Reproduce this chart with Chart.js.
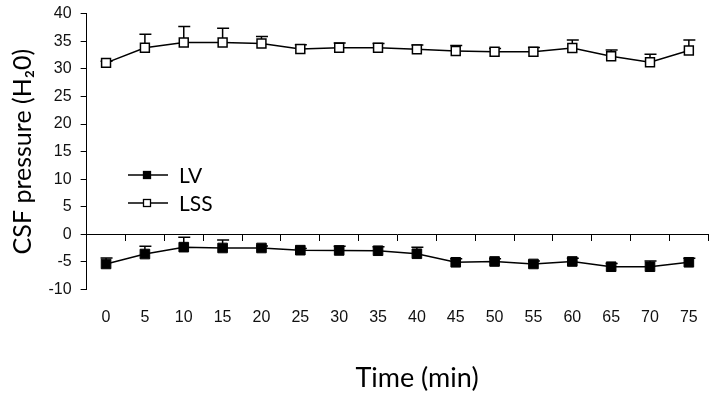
<!DOCTYPE html>
<html><head><meta charset="utf-8">
<script src="https://cdn.jsdelivr.net/npm/chart.js@4.4.0/dist/chart.umd.min.js"></script>
<style>html,body{margin:0;padding:0;background:#fff}#wrap{width:717px;height:395px}</style>
</head><body><div id="wrap"><canvas id="c" width="717" height="395"></canvas></div>
<script>
const timeLabels = ['0','5','10','15','20','25','30','35','40','45','50','55','60','65','70','75'];
const lvValues  = [-5.4,-3.6,-2.35,-2.5,-2.5,-2.9,-2.95,-3.0,-3.55,-5.1,-4.95,-5.4,-4.95,-5.9,-5.9,-5.1];
const lvErrors  = [1.1,1.4,1.8,1.45,0.35,0.3,0.75,0.7,1.2,0.65,0.5,0.55,0.6,0.6,1.05,0.75];
const lssValues = [31.1,33.85,34.8,34.8,34.6,33.6,33.85,33.85,33.55,33.25,33.1,33.1,33.8,32.3,31.2,33.35];
const lssErrors = [0.3,2.45,2.9,2.6,1.3,0.8,0.85,0.75,0.8,1.0,0.6,0.8,1.45,1.15,1.45,1.9];
const yMin = -10, yMax = 40, yStep = 5;
const seriesNames = ['LV','LSS'];
const xTitle = 'Time (min)';
const yTitle = 'CSF pressure (H\u20820)';

const errorBars = {
  id: 'errorBars',
  beforeDatasetsDraw(chart) {
    const ctx = chart.ctx, ys = chart.scales.y;
    chart.data.datasets.forEach((ds, di) => {
      const meta = chart.getDatasetMeta(di);
      ctx.save();
      ctx.strokeStyle = '#000';
      ctx.lineWidth = 1.5;
      meta.data.forEach((pt, i) => {
        const e = ds.errors[i];
        const x = pt.x, y0 = pt.y, y1 = ys.getPixelForValue(ds.data[i] + e);
        ctx.beginPath();
        ctx.moveTo(x, y0); ctx.lineTo(x, y1);
        ctx.moveTo(x - 5.5, y1); ctx.lineTo(x + 6.5, y1);
        ctx.stroke();
      });
      ctx.restore();
    });
  }
};

const innerLegend = {
  id: 'innerLegend',
  afterDraw(chart) {
    const ctx = chart.ctx;
    const x0 = 128, x1 = 168, xm = 147, tx = 179;
    const rows = [175, 203];
    chart.data.datasets.forEach((ds, i) => {
      const y = rows[i];
      ctx.save();
      ctx.strokeStyle = '#000'; ctx.lineWidth = 1.5;
      ctx.beginPath(); ctx.moveTo(x0, y); ctx.lineTo(x1, y); ctx.stroke();
      ctx.fillStyle = ds.pointBackgroundColor;
      ctx.fillRect(xm - 3.5, y - 3.5, 7, 7);
      ctx.lineWidth = 1.3;
      ctx.strokeRect(xm - 3.5, y - 3.5, 7, 7);
      ctx.fillStyle = '#000';
      ctx.font = '21px Lato';
      ctx.textBaseline = 'middle';
      ctx.fillText(ds.label, tx, y + 1);
      ctx.restore();
    });
  }
};

const xAxisTitle = {
  id: 'xAxisTitle',
  afterDraw(chart) {
    const ctx = chart.ctx;
    ctx.save();
    ctx.fillStyle = '#000';
    ctx.font = '27px Lato';
    ctx.textAlign = 'center';
    ctx.textBaseline = 'middle';
    ctx.fillText(xTitle, 417, 378);
    ctx.restore();
  }
};

new Chart(document.getElementById('c'), {
  type: 'line',
  data: {
    labels: timeLabels,
    datasets: [
      { label: seriesNames[0], data: lvValues, errors: lvErrors, borderColor: '#000', borderWidth: 1.5,
        pointStyle: 'rect', pointRadius: 6.8, pointBackgroundColor: '#000', pointBorderColor: '#000', pointBorderWidth: 1,
        xAxisID: 'x', yAxisID: 'y', tension: 0 },
      { label: seriesNames[1], data: lssValues, errors: lssErrors, borderColor: '#000', borderWidth: 1.5,
        pointStyle: 'rect', pointRadius: 6.3, pointBackgroundColor: '#fff', pointBorderColor: '#000', pointBorderWidth: 1.5,
        xAxisID: 'x', yAxisID: 'y', tension: 0 }
    ]
  },
  options: {
    responsive: false, animation: false, devicePixelRatio: 1,
    layout: { padding: { left: 8, right: 6, top: 0, bottom: 48.5 } },
    plugins: { legend: { display: false }, tooltip: { enabled: false } },
    scales: {
      x: {
        type: 'category', position: 'bottom', offset: true,
        grid: { display: false, drawTicks: false },
        border: { display: false },
        ticks: { color: '#111', font: { family: 'Liberation Sans', size: 16 }, padding: 19, maxRotation: 0, autoSkip: false },
        title: { display: false, text: xTitle }
      },
      x0: {
        type: 'category', position: { y: 0 }, offset: true,
        grid: { display: true, offset: true, drawOnChartArea: false, drawTicks: true, tickLength: 6, color: '#000', lineWidth: 1 },
        border: { display: true, color: '#000', width: 1 },
        ticks: { display: false }
      },
      y: {
        type: 'linear', min: yMin, max: yMax,
        grid: { drawOnChartArea: false, drawTicks: true, tickLength: 6, color: '#000', lineWidth: 1 },
        border: { display: true, color: '#000', width: 1 },
        ticks: { stepSize: yStep, color: '#111', font: { family: 'Liberation Sans', size: 16, lineHeight: 0.6 }, padding: 9 },
        title: { display: true, text: yTitle, color: '#000', font: { family: 'Lato', size: 25 }, padding: { top: 0, bottom: 1.5 } }
      }
    }
  },
  plugins: [errorBars, innerLegend, xAxisTitle]
});
</script></body></html>
